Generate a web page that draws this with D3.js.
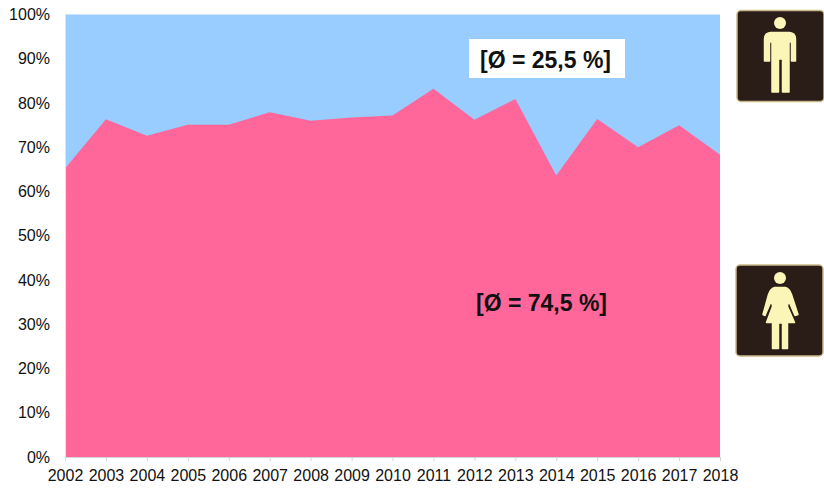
<!DOCTYPE html>
<html><head><meta charset="utf-8">
<script src="https://cdnjs.cloudflare.com/ajax/libs/d3/7.8.5/d3.min.js"></script>
<style>html,body{margin:0;padding:0;background:#fff;overflow:hidden}svg{display:block}text{font-family:"Liberation Sans",Arial,sans-serif}</style>
</head><body><svg id="c" width="824" height="488"></svg>
<script>
const years=[2002,2003,2004,2005,2006,2007,2008,2009,2010,2011,2012,2013,2014,2015,2016,2017,2018];
const women=[65.2,76.3,72.6,75.1,75.1,77.9,76,76.7,77.2,83.2,76.2,80.9,63.6,76.4,70,75,68.3];
const yTicks=[0,10,20,30,40,50,60,70,80,90,100];
const noteMen="[Ø = 25,5 %]";
const noteWomen="[Ø = 74,5 %]";
const svg=d3.select("#c");
const x=d3.scalePoint().domain(years).range([65,720]);
const y=d3.scaleLinear().domain([0,100]).range([457,14.5]);
svg.append("rect").attr("x",x(2002)).attr("y",y(100)).attr("width",x(2018)-x(2002)).attr("height",y(0)-y(100)).attr("fill","#99ccff");
svg.append("path").datum(women).attr("fill","#ff6699").attr("d",d3.area().x((d,i)=>x(years[i])).y0(y(0)).y1(d=>y(d)));
const ax=svg.append("g").attr("transform",`translate(0,${y(0)})`).call(d3.axisBottom(x).tickSize(4).tickPadding(9));
ax.select(".domain").attr("stroke","#d4d4d4");ax.selectAll("line").attr("stroke","#d4d4d4");
ax.selectAll("text").attr("font-size",16).attr("fill","#111").style("font-family",'"Liberation Sans",Arial,sans-serif');
const ay=svg.append("g").attr("transform","translate(65,0)").call(d3.axisLeft(y).tickValues(yTicks).tickFormat(d=>d+"%").tickSize(0).tickPadding(15));
ay.select(".domain").attr("stroke","#e4e4e4");
ay.selectAll("text").attr("font-size",16).attr("fill","#111").style("font-family",'"Liberation Sans",Arial,sans-serif');
svg.append("rect").attr("x",469).attr("y",39).attr("width",156).attr("height",39).attr("fill","#fff");
svg.append("text").attr("x",545.5).attr("y",68).attr("text-anchor","middle").attr("font-size",23).attr("font-weight","bold").attr("fill","#111").text(noteMen);
svg.append("text").attr("x",541.5).attr("y",311).attr("text-anchor","middle").attr("font-size",23).attr("font-weight","bold").attr("fill","#111").text(noteWomen);
const dark="#2a1c17",cream="#fbf6b8";
function sign(g){
 g.append("rect").attr("x",0.5).attr("y",0.5).attr("width",87).attr("height",91).attr("rx",4).attr("fill",dark).attr("stroke","#c9b98a").attr("stroke-width",1.5);
}
function figure(g,d){
 g.append("path").attr("fill",cream).attr("stroke",cream).attr("stroke-width",1.5).attr("stroke-linejoin","round").attr("d",d);
}
const m=svg.append("g").attr("transform","translate(736.5,10)");sign(m);
m.append("circle").attr("cx",43.5).attr("cy",13).attr("r",6).attr("fill",cream);
figure(m,"M34 22.5 H53 Q59 23 59 29 V51 H55 V32 H52.5 V82 H46 V49 H42 V82 H35.5 V32 H33 V51 H28 V29 Q28 23 34 22.5Z");
const f=svg.append("g").attr("transform","translate(735.5,264.5)");sign(f);
f.append("circle").attr("cx",44.5).attr("cy",13.5).attr("r",6).attr("fill",cream);
figure(f,"M39 23 H50 Q54 24 56 30 L62.5 50 L59.5 51 L53 36 L52 42 L59 58 H52 V84 H47 V58.5 H43 V84 H37 V58 H31 L37 42 L36 36 L29.5 51 L27.5 50 L33 30 Q35 24 39 23Z");
</script></body></html>
